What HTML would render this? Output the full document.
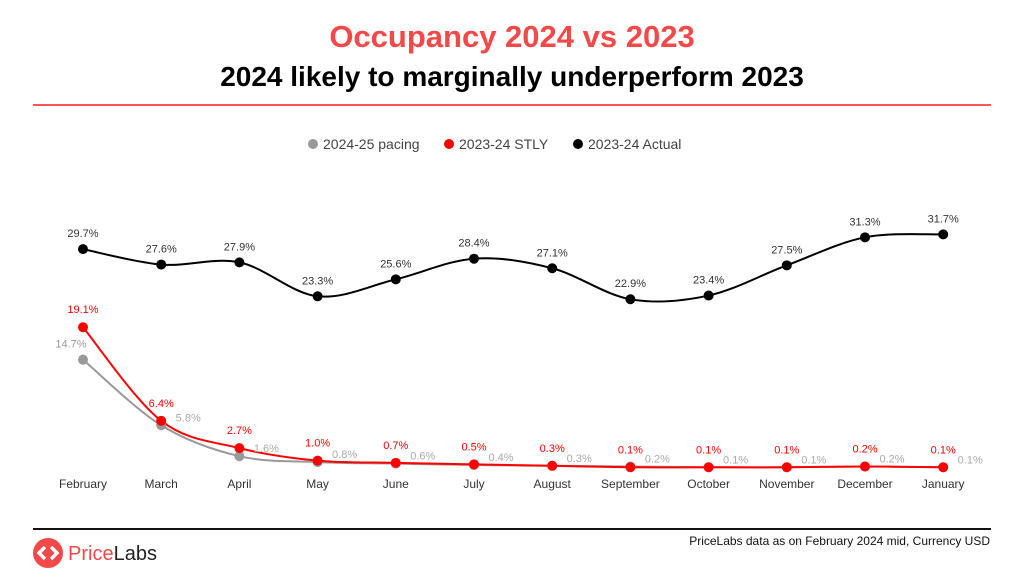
<!DOCTYPE html>
<html><head><meta charset="utf-8"><style>
body{margin:0;background:#fff;width:1024px;height:576px;overflow:hidden;font-family:"Liberation Sans",sans-serif}
</style></head><body>
<svg id="s" width="1024" height="576" xmlns="http://www.w3.org/2000/svg" font-family="Liberation Sans, sans-serif">
<text x="512" y="47" text-anchor="middle" font-size="31" font-weight="bold" fill="#f54848">Occupancy 2024 vs 2023</text>
<text x="512" y="86" text-anchor="middle" font-size="28" font-weight="bold" fill="#000">2024 likely to marginally underperform 2023</text>
<rect x="33" y="104" width="958" height="2" fill="#f55"/>
<circle cx="313" cy="144" r="5" fill="#999"/><text x="323" y="149" font-size="14" fill="#444">2024-25 pacing</text>
<circle cx="449" cy="144" r="5" fill="#f00"/><text x="459" y="149" font-size="14" fill="#444">2023-24 STLY</text>
<circle cx="578" cy="144" r="5" fill="#000"/><text x="588" y="149" font-size="14" fill="#444">2023-24 Actual</text>
<g id="g"></g>
<rect x="33" y="528" width="958" height="2" fill="#111"/>
<text x="990" y="545" text-anchor="end" font-size="12" fill="#111">PriceLabs data as on February 2024 mid, Currency USD</text>
<circle cx="48" cy="553" r="15" fill="#f54848"/>
<path d="M45 547 L39 553 L45 559 M51 547 L57 553 L51 559" stroke="#fff" stroke-width="3.5" fill="none"/>
<text x="68" y="560" font-size="20"><tspan fill="#f54848">Price</tspan><tspan fill="#222">Labs</tspan></text>
</svg>
<script>
var m=["February","March","April","May","June","July","August","September","October","November","December","January"];
var A=[29.7,27.6,27.9,23.3,25.6,28.4,27.1,22.9,23.4,27.5,31.3,31.7];
var S=[19.1,6.4,2.7,1.0,0.7,0.5,0.3,0.1,0.1,0.1,0.2,0.1];
var P=[14.7,5.8,1.6,0.8,0.6,0.4,0.3,0.2,0.1,0.1,0.2,0.1];
function X(i){return 83+i*78.2}function Y(v){return 468-v*7.37}
function path(d){var p=d.map(function(v,i){return[X(i),Y(v)]});var s="M"+p[0];
for(var i=0;i<p.length-1;i++){var a=p[i-1]||p[i],b=p[i],c=p[i+1],e=p[i+2]||c;
s+=" C"+(b[0]+(c[0]-a[0])/6)+","+(b[1]+(c[1]-a[1])/6)+" "+(c[0]-(e[0]-b[0])/6)+","+(c[1]-(e[1]-b[1])/6)+" "+c[0]+","+c[1];}return s}
var h="";
h+='<path d="'+path(A)+'" stroke="#000" stroke-width="2" fill="none"/>';
h+='<path d="'+path(P)+'" stroke="#999" stroke-width="2" fill="none"/>';
h+='<path d="'+path(S)+'" stroke="#f00" stroke-width="2" fill="none"/>';
for(var i=0;i<12;i++){var x=X(i);
h+='<text x="'+x+'" y="488" text-anchor="middle" font-size="12" fill="#333">'+m[i]+'</text>';
h+='<circle cx="'+x+'" cy="'+Y(A[i])+'" r="5" fill="#000"/><text x="'+x+'" y="'+(Y(A[i])-12)+'" text-anchor="middle" font-size="11" fill="#333">'+A[i].toFixed(1)+'%</text>';
h+='<circle cx="'+x+'" cy="'+Y(P[i])+'" r="5" fill="#999"/>';
if(i==0)h+='<text x="'+(x-12)+'" y="'+(Y(P[i])-12)+'" text-anchor="middle" font-size="11" fill="#999">'+P[i].toFixed(1)+'%</text>';
else h+='<text x="'+(x+27)+'" y="'+(Y(P[i])-4)+'" text-anchor="middle" font-size="11" fill="#aaa">'+P[i].toFixed(1)+'%</text>';
h+='<circle cx="'+x+'" cy="'+Y(S[i])+'" r="5" fill="#f00"/><text x="'+x+'" y="'+(Y(S[i])-14)+'" text-anchor="middle" font-size="11" fill="#f00">'+S[i].toFixed(1)+'%</text>';
}
document.getElementById("g").innerHTML=h;
</script>
</body></html>
